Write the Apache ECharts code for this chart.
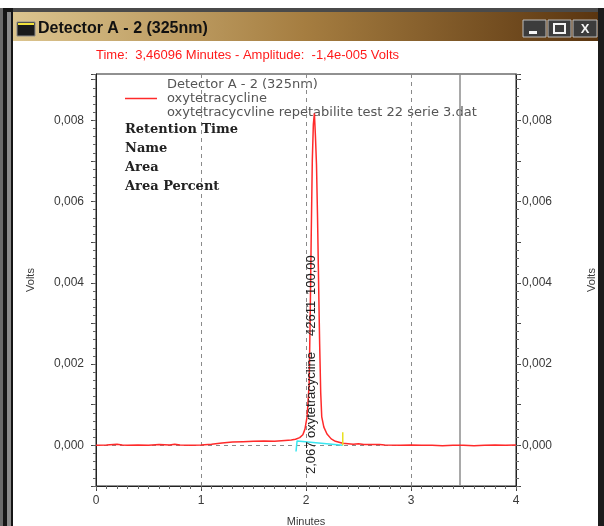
<!DOCTYPE html>
<html>
<head>
<meta charset="utf-8">
<script src="https://cdn.jsdelivr.net/npm/echarts@6/dist/echarts.min.js"></script>
<style>
html, body { margin: 0; padding: 0; background: #fff; }
#chart { width: 604px; height: 526px; }
</style>
</head>
<body>
<div id="chart"></div>
<script>
// ---- 数据 ----
const timeMin = [0, 0.1, 0.2, 0.25, 0.3, 0.4, 0.5, 0.6, 0.7, 0.75, 0.8, 0.9, 1.0, 1.1, 1.2, 1.3, 1.4, 1.5, 1.6, 1.7, 1.8, 1.86,
  1.90, 1.94, 1.97, 1.99, 2.01, 2.03, 2.04, 2.05, 2.06, 2.07, 2.08, 2.09, 2.10, 2.11, 2.12, 2.13, 2.14, 2.15, 2.17,
  2.20, 2.24, 2.28, 2.35, 2.45, 2.5, 2.55, 2.7, 2.75, 2.9, 3.0, 3.1, 3.2, 3.3, 3.4, 3.5, 3.6, 3.7, 3.8, 3.9, 4.0]
const voltsSig = [0, 0.00001, 0.00003, 0.00001, 0, 0.00001, 0, 0.00002, 0.00001, 0.00003, 0.00001, 0, 0.00001, 0.00003, 0.00006, 0.00008, 0.00009, 0.0001, 0.00011, 0.0001, 0.00012, 0.00013,
  0.00015, 0.00019, 0.00026, 0.0004, 0.0007, 0.0015, 0.0032, 0.0052, 0.007, 0.0079, 0.00817, 0.0076, 0.0069, 0.0056, 0.004, 0.0025, 0.0013, 0.0007, 0.00045,
  0.00028, 0.00016, 0.0001, 0.00005, 0.00003, 0.00004, 0.00002, 0.00002, 0.00001, 0, 0.00001, 0, 0, -0.00001, 0, 0, -0.00001, 0, 0.00001, 0, 0.00001]

// 基线 (cyan) 与峰终点 (yellow)
const baseTime = [1.905, 1.915, 2.35]
const baseVolts = [-0.00015, 0.00011, 0.0]
const endTime = [2.35, 2.35]
const endVolts = [0.0, 0.00032]

const xTicks = [0, 1, 2, 3, 4]
const yTicks = [0, 0.002, 0.004, 0.006, 0.008]
const cursorTime = 3.46096
const peakLabel = ['2,067', 'oxytetracycline', '42611', '100,00']
const infoLabels = ['Retention Time', 'Name', 'Area', 'Area Percent']

const zip = (a, b) => a.map((v, i) => [v, b[i]])
const fmtY = v => yTicks.some(t => Math.abs(t - v) < 1e-9) ? v.toFixed(3).replace('.', ',') : ''

const tickFont = { fontFamily: 'Liberation Sans', fontSize: 12, color: '#3a3a3a' }
const Y_MIN = -0.001
const Y_MAX = 0.00914

function yAxisSide(pos) {
  return {
    type: 'value',
    position: pos,
    min: Y_MIN,
    max: Y_MAX,
    interval: 0.001,
    name: 'Volts',
    nameLocation: 'middle',
    nameRotate: 90,
    nameGap: pos === 'left' ? 60 : 70,
    nameTextStyle: { ...tickFont, fontSize: 11 },
    axisLine: { show: true, onZero: false, lineStyle: { color: '#222', width: 1 } },
    axisTick: { show: true, length: 5, lineStyle: { color: '#444' } },
    axisLabel: { ...tickFont, margin: pos === 'left' ? 12 : 6, formatter: fmtY },
    splitLine: { show: false }
  }
}

// 细刻度：用只画刻度的辅助轴（minorTick 在 v6 里画到了内侧）
function fineTicks(pos, interval, range) {
  return {
    type: 'value',
    position: pos,
    ...range,
    interval,
    axisLine: { show: false, onZero: false },
    axisTick: { show: true, length: 3, lineStyle: { color: '#666' } },
    axisLabel: { show: false },
    splitLine: { show: false }
  }
}

const chart = echarts.init(document.getElementById('chart'))

// ---- 窗口外框 ----
const chrome = [
  { type: 'rect', shape: { x: 0, y: 8, width: 604, height: 4 }, style: { fill: '#4a4a4a' } },
  {
    type: 'rect', shape: { x: 13, y: 12, width: 585, height: 29 },
    style: {
      fill: new echarts.graphic.LinearGradient(0, 0, 1, 0, [
        { offset: 0, color: '#dcc58f' },
        { offset: 0.5, color: '#a57d40' },
        { offset: 1, color: '#5a3510' }
      ])
    }
  },
  { type: 'rect', shape: { x: 0, y: 8, width: 13, height: 518 }, style: { fill: '#151515' } },
  { type: 'rect', shape: { x: 0, y: 8, width: 3, height: 518 }, style: { fill: '#6a6a6a' } },
  { type: 'rect', shape: { x: 7, y: 12, width: 4, height: 514 }, style: { fill: '#8a8a8a' } },
  { type: 'rect', shape: { x: 598, y: 8, width: 6, height: 518 }, style: { fill: '#1c1c1c' } },
  // 图标
  { type: 'rect', shape: { x: 17, y: 22, width: 18, height: 14 }, style: { fill: '#1a1a1a', stroke: '#8a8a8a', lineWidth: 1 } },
  { type: 'rect', shape: { x: 18, y: 23, width: 16, height: 2 }, style: { fill: '#f2e23a' } },
  {
    type: 'text', x: 38, y: 29,
    style: { text: 'Detector A - 2 (325nm)', fill: '#111', font: 'bold 16px "Liberation Sans"', verticalAlign: 'middle' }
  },
  // 按钮
  { type: 'rect', shape: { x: 523, y: 20, width: 23, height: 17 }, style: { fill: '#3c3c3c', stroke: '#bdbdbd', lineWidth: 1 } },
  { type: 'rect', shape: { x: 548, y: 20, width: 23, height: 17 }, style: { fill: '#3c3c3c', stroke: '#bdbdbd', lineWidth: 1 } },
  { type: 'rect', shape: { x: 573, y: 20, width: 24, height: 17 }, style: { fill: '#3c3c3c', stroke: '#bdbdbd', lineWidth: 1 } },
  { type: 'rect', shape: { x: 529, y: 31, width: 8, height: 3 }, style: { fill: '#f4f4f4' } },
  { type: 'rect', shape: { x: 554, y: 24, width: 11, height: 9 }, style: { fill: 'none', stroke: '#f4f4f4', lineWidth: 2 } },
  {
    type: 'text', x: 585, y: 29,
    style: { text: 'X', fill: '#f4f4f4', font: 'bold 13px "Liberation Sans"', align: 'center', verticalAlign: 'middle' }
  },
  {
    type: 'text', x: 96, y: 55,
    style: { text: 'Time:  3,46096 Minutes - Amplitude:  -1,4e-005 Volts', fill: '#ff1a1a', font: '13px "Liberation Sans"', verticalAlign: 'middle' }
  },
  // 图例文字
  { type: 'text', x: 167, y: 85, style: { text: 'Detector A - 2 (325nm)', fill: '#555', font: '13px "DejaVu Sans"', verticalAlign: 'middle' } },
  { type: 'text', x: 167, y: 113, style: { text: 'oxytetracycvline repetabilite test 22 serie 3.dat', fill: '#555', font: '13px "DejaVu Sans"', verticalAlign: 'middle' } }
]

// 左上角粗体注释
infoLabels.forEach((t, i) => {
  chrome.push({
    type: 'text', x: 125, y: 130 + i * 19, z: 10,
    style: { text: t, fill: '#222', font: 'bold 13px "DejaVu Serif"', verticalAlign: 'middle' }
  })
})

// 峰标签（竖排）
const peakBottoms = [474, 438, 336, 295]
peakLabel.forEach((t, i) => {
  chrome.push({
    type: 'text', x: 311, y: peakBottoms[i], rotation: Math.PI / 2, z: 10,
    style: { text: t, fill: '#222', font: '13px "Liberation Sans"', align: 'left', verticalAlign: 'middle' }
  })
})

chart.setOption({
  animation: false,
  backgroundColor: '#fff',
  graphic: chrome,
  legend: {
    data: ['oxytetracycline'],
    left: 125,
    top: 92,
    padding: 0,
    icon: 'rect',
    itemWidth: 32,
    itemHeight: 1.5,
    textStyle: { fontFamily: 'DejaVu Sans', fontSize: 13, color: '#555', padding: [0, 0, 0, 5] }
  },
  grid: {
    left: 96, right: 88, top: 74, bottom: 40,
    containLabel: false, outerBoundsMode: 'none',
    show: true, borderColor: '#222', borderWidth: 1
  },
  xAxis: [
    {
      type: 'value',
      min: xTicks[0],
      max: xTicks[xTicks.length - 1],
      interval: 1,
      name: 'Minutes',
      nameLocation: 'middle',
      nameGap: 30,
      nameTextStyle: { ...tickFont, fontSize: 11 },
      axisLine: { show: true, onZero: false, lineStyle: { color: '#222', width: 1 } },
      axisTick: { show: true, length: 5, lineStyle: { color: '#444' } },
      axisLabel: { ...tickFont, margin: 9 },
      splitLine: { show: true, lineStyle: { color: '#8a8a8a', type: [4, 4] } }
    },
    fineTicks('bottom', 0.1, { min: xTicks[0], max: xTicks[xTicks.length - 1] })
  ],
  yAxis: [
    yAxisSide('left'),
    yAxisSide('right'),
    fineTicks('left', 0.0002, { min: Y_MIN, max: Y_MAX }),
    fineTicks('right', 0.0002, { min: Y_MIN, max: Y_MAX })
  ],
  series: [
    {
      name: 'oxytetracycline',
      type: 'line',
      data: zip(timeMin, voltsSig),
      symbol: 'none',
      lineStyle: { color: '#ff2a2a', width: 1.5 },
      itemStyle: { color: '#ff2a2a' },
      z: 5,
      markLine: {
        silent: true,
        symbol: 'none',
        label: { show: false },
        data: [
          ...yTicks.map(v => ({ yAxis: v, lineStyle: { color: '#8a8a8a', type: [4, 4], width: 1 } })),
          { xAxis: cursorTime, lineStyle: { color: '#8c8c8c', type: 'solid', width: 1.5 } }
        ]
      }
    },
    {
      name: 'baseline',
      type: 'line',
      data: zip(baseTime, baseVolts),
      symbol: 'none',
      lineStyle: { color: '#3ae6f0', width: 1.5 },
      z: 6
    },
    {
      name: 'peak end',
      type: 'line',
      data: zip(endTime, endVolts),
      symbol: 'none',
      lineStyle: { color: '#e8e020', width: 1.5 },
      z: 6
    }
  ]
})
</script>
</body>
</html>
